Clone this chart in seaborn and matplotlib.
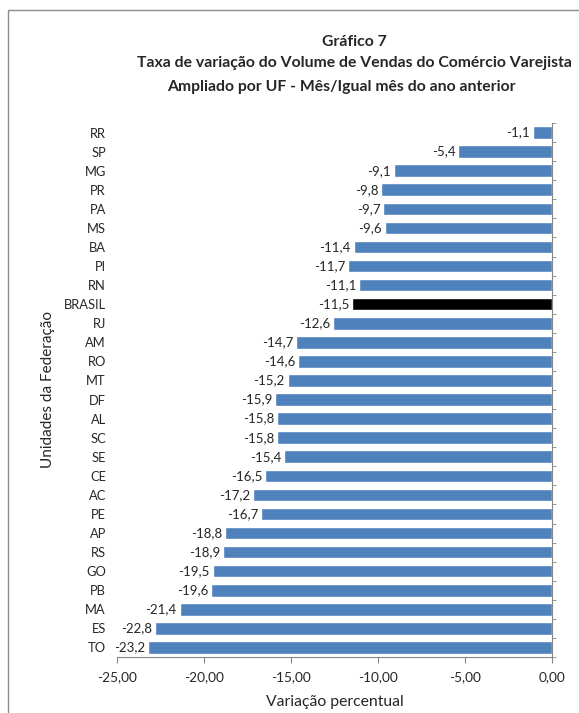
import matplotlib
matplotlib.use("Agg")
import matplotlib.pyplot as plt
import seaborn as sns
import pandas as pd
import numpy as np
from matplotlib.ticker import FuncFormatter, FixedLocator
from matplotlib.patches import Rectangle

## Data
ufs = ["RR", "SP", "MG", "PR", "PA", "MS", "BA", "PI", "RN", "BRASIL", "RJ", "AM", "RO",
       "MT", "DF", "AL", "SC", "SE", "CE", "AC", "PE", "AP", "RS", "GO", "PB", "MA", "ES", "TO"]
variacao = [-1.1, -5.4, -9.1, -9.8, -9.7, -9.6, -11.4, -11.7, -11.1, -11.5, -12.6, -14.7, -14.6,
            -15.2, -15.9, -15.8, -15.8, -15.4, -16.5, -17.2, -16.7, -18.8, -18.9, -19.5, -19.6,
            -21.4, -22.8, -23.2]
x_ticks = [-25, -20, -15, -10, -5, 0]

df = pd.DataFrame({"uf": ufs, "var": variacao})
cores = ["#000000" if u == "BRASIL" else "#4F81BD" for u in ufs]

sns.set_style("white")
plt.rcParams["font.family"] = ["Lato", "DejaVu Sans"]

fig = plt.figure(figsize=(5.79, 7.13), dpi=100)
ax = fig.add_axes([117 / 579, 1 - 657 / 713, 435 / 579, (657 - 123) / 713])

sns.barplot(data=df, x="var", y="uf", hue="uf", palette=cores, legend=False,
            orient="h", width=0.66, saturation=1, ax=ax)

for cont in ax.containers:
    ax.bar_label(cont, labels=[f"{v:.1f}".replace(".", ",") for v in cont.datavalues],
                 padding=2, fontsize=9.5)

ax.set_xlim(-25, 0)
ax.set_ylim(len(ufs) - 0.5, -0.5)
ax.xaxis.set_major_locator(FixedLocator(x_ticks))
ax.xaxis.set_major_formatter(FuncFormatter(lambda v, p: f"{v:.2f}".replace(".", ",")))
ax.tick_params(axis="x", labelsize=9.8, length=4, color="#868686", direction="out", bottom=True, pad=6)
ax.tick_params(axis="y", labelsize=9.3, length=0, pad=8)
ax.yaxis.set_minor_locator(FixedLocator(np.arange(-0.5, len(ufs), 1)))
ax.tick_params(axis="y", which="minor", left=False, right=True, length=3, color="#868686")

for s in ["top", "left"]:
    ax.spines[s].set_visible(False)
for s in ["bottom", "right"]:
    ax.spines[s].set_color("#868686")

ax.set_xlabel("Variação percentual", fontsize=11.3, labelpad=9)
ax.set_ylabel("Unidades da Federação", fontsize=11, labelpad=6)

fig.text(354 / 579, 1 - 42 / 713, "Gráfico 7", ha="center", va="center", fontsize=11.3, fontweight="bold")
fig.text(354 / 579, 1 - 63 / 713, "Taxa de variação do Volume de Vendas do Comércio Varejista",
         ha="center", va="center", fontsize=11.3, fontweight="bold")
fig.text(341 / 579, 1 - 87 / 713, "Ampliado por UF - Mês/Igual mês do ano anterior",
         ha="center", va="center", fontsize=11.3, fontweight="bold")

fig.patches.append(Rectangle((8 / 579, -0.01), 1.0, 1 - 10 / 713 + 0.01, transform=fig.transFigure,
                             fill=False, edgecolor="#8C8C8C", linewidth=1))

fig.savefig("out.png", dpi=100)
